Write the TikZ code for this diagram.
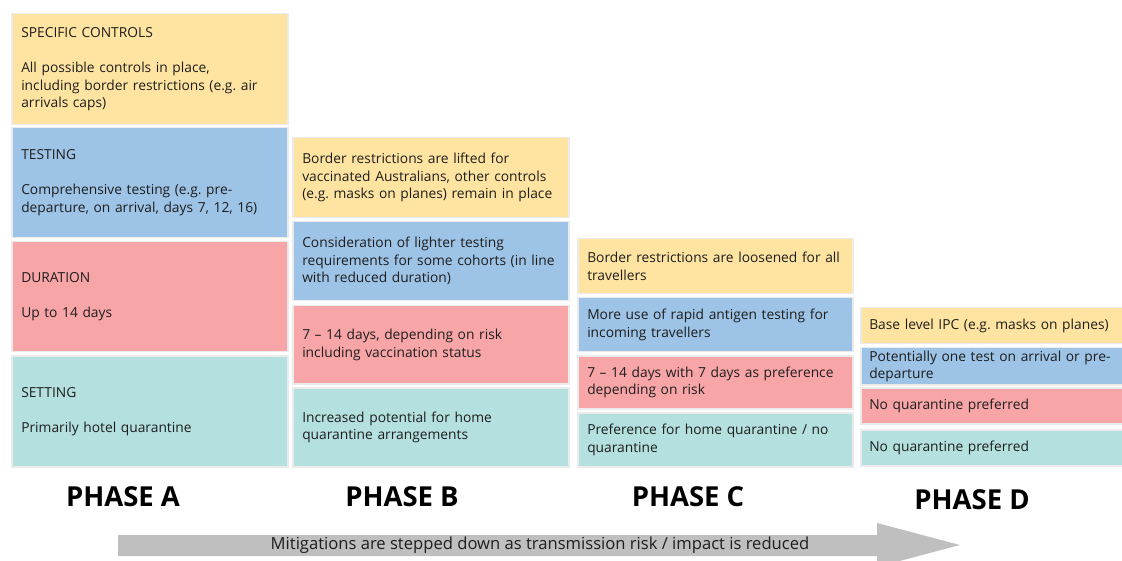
\documentclass[tikz,border=0pt]{standalone}
\usepackage{fontspec}
\setmainfont{Open Sans}
\usepackage{tikz}
\usetikzlibrary{positioning}
\frenchspacing
\definecolor{ctrlyellow}{HTML}{FFE4A1}
\definecolor{testblue}{HTML}{9DC3E6}
\definecolor{durred}{HTML}{F8A5A8}
\definecolor{setteal}{HTML}{B4E0DF}
\definecolor{arrowgrey}{HTML}{BFBFBF}
\definecolor{txtdark}{HTML}{1E1E1E}

\begin{document}
\begin{tikzpicture}[x=1pt, y=-1pt,
 cell/.style={draw=black!8, line width=1.5pt, anchor=north west, inner xsep=9.5pt,
  inner ysep=0pt, align=left, text=txtdark, font=\fontsize{13.8}{17.5}\selectfont},
 colA/.style={cell, minimum width=276, text width=257pt},
 colB/.style={cell, minimum width=276, text width=257pt},
 colC/.style={cell, minimum width=275, text width=256pt},
 colD/.style={cell, minimum width=262, text width=245pt, inner xsep=8.5pt},
 phase/.style={font=\bfseries\fontsize{27.5}{28}\selectfont, text=black}]
 \useasboundingbox (0,0) rectangle (1122,561);
 % phase A
 \node[colA, fill=ctrlyellow, minimum height=111] (a1) at (11,13) {SPECIFIC CONTROLS\\[17.5pt]All possible controls in place,\\including border restrictions (e.g. air\\arrivals caps)};
 \node[colA, fill=testblue, minimum height=110] (a2) at (11,127) {TESTING\\[17.5pt]Comprehensive testing (e.g. pre-\\departure, on arrival, days 7, 12, 16)};
 \node[colA, fill=durred, minimum height=110] (a3) at (11,241) {DURATION\\[17.5pt]Up to 14 days};
 \node[colA, fill=setteal, minimum height=111] (a4) at (11,355) {SETTING\\[17.5pt]Primarily hotel quarantine};
 % phase B
 \node[colB, fill=ctrlyellow, minimum height=80] (b1) at (292,137) {Border restrictions are lifted for\\vaccinated Australians, other controls\\(e.g. masks on planes) remain in place};
 \node[colB, fill=testblue, minimum height=79] (b2) at (292,221) {Consideration of lighter testing\\requirements for some cohorts (in line\\with reduced duration)};
 \node[colB, fill=durred, minimum height=78] (b3) at (292,305) {7 -- 14 days, depending on risk\\including vaccination status};
 \node[colB, fill=setteal, minimum height=79] (b4) at (292,387) {Increased potential for home\\quarantine arrangements};
 % phase C
 \node[colC, fill=ctrlyellow, minimum height=55] (c1) at (577,238) {Border restrictions are loosened for all\\travellers};
 \node[colC, fill=testblue, minimum height=54] (c2) at (577,297) {More use of rapid antigen testing for\\incoming travellers};
 \node[colC, fill=durred, minimum height=53] (c3) at (577,355) {7 -- 14 days with 7 days as preference\\depending on risk};
 \node[colC, fill=setteal, minimum height=54] (c4) at (577,412) {Preference for home quarantine / no\\quarantine};
 % phase D
 \node[colD, fill=ctrlyellow, minimum height=36] (d1) at (860,307) {Base level IPC (e.g. masks on planes)};
 \node[colD, fill=testblue, minimum height=37] (d2) at (860,347) {Potentially one test on arrival or pre-\\departure};
 \node[colD, fill=durred, minimum height=36] (d3) at (860,387) {No quarantine preferred};
 \node[colD, fill=setteal, minimum height=36] (d4) at (860,429) {No quarantine preferred};
 % labels
 \node[phase] (pa) at (123,497) {PHASE A};
 \node[phase] (pb) at (402,497) {PHASE B};
 \node[phase] (pc) at (688,497) {PHASE C};
 \node[phase] (pd) at (972,500) {PHASE D};
 % arrow
 \fill[arrowgrey] (118,535) -- (877,535) -- (877,523) -- (960,545) -- (877,567)
  -- (877,556) -- (118,556) -- cycle;
 \node[font=\fontsize{16.6}{17}\selectfont, text=txtdark] (mitig) at (540,545.5)
  {Mitigations are stepped down as transmission risk / impact is reduced};
\end{tikzpicture}
\end{document}
